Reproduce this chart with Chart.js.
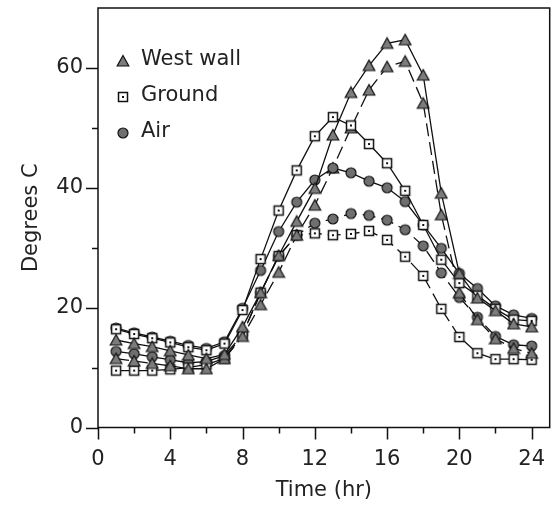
<!doctype html>
<html lang="en">
<head>
<meta charset="utf-8">
<title>Degrees C over the day</title>
<script src="https://cdn.jsdelivr.net/npm/chart.js@4"></script>
<style>
  html, body { margin: 0; padding: 0; background: #fff; }
</style>
</head>
<body>
<canvas id="chart" width="557" height="512"></canvas>
<script>
  // hourly readings
  const hours = [1, 2, 3, 4, 5, 6, 7, 8, 9, 10, 11, 12, 13, 14, 15, 16, 17, 18, 19, 20, 21, 22, 23, 24]

  const wallSolid   = [14.6, 14.0, 13.5, 12.8, 12.1, 11.5, 12.2, 16.8, 22.5, 28.7, 34.4, 39.9, 48.8, 55.9, 60.4, 64.1, 64.7, 58.8, 39.1, 25.7, 21.6, 19.5, 17.3, 16.8]
  const groundSolid = [16.4, 15.6, 14.9, 14.2, 13.4, 12.9, 14.0, 19.6, 28.1, 36.2, 42.9, 48.6, 51.8, 50.4, 47.3, 44.1, 39.5, 33.8, 28.0, 24.1, 22.0, 19.8, 18.0, 17.8]
  const airSolid    = [16.6, 15.8, 15.1, 14.4, 13.7, 13.2, 14.3, 19.9, 26.2, 32.7, 37.6, 41.3, 43.3, 42.5, 41.1, 40.0, 37.7, 33.8, 29.9, 25.7, 23.2, 20.3, 18.8, 18.2]

  const wallDashed   = [11.5, 11.1, 10.7, 10.3, 9.8, 9.8, 11.5, 15.2, 20.5, 25.9, 32.1, 37.1, 43.3, 50.0, 56.3, 60.2, 61.1, 54.1, 35.5, 22.5, 18.0, 14.8, 13.2, 12.4]
  const groundDashed = [9.5, 9.5, 9.5, 9.7, 10.0, 10.5, 11.5, 15.5, 22.5, 28.6, 32.1, 32.4, 32.1, 32.3, 32.8, 31.3, 28.5, 25.3, 19.8, 15.1, 12.4, 11.4, 11.4, 11.3]
  const airDashed    = [12.7, 12.3, 11.8, 11.3, 10.8, 11.0, 12.0, 15.5, 22.5, 28.6, 32.1, 34.1, 34.8, 35.7, 35.4, 34.6, 33.0, 30.3, 25.8, 21.7, 18.4, 15.2, 13.8, 13.6]

  const xLabelTicks = [0, 4, 8, 12, 16, 20, 24]
  const xMinorTicks = [2, 6, 10, 14, 18, 22]
  const yLabelTicks = [0, 20, 40, 60]
  const yMinorTicks = [10, 30, 50]

  const legendNames = ['West wall', 'Ground', 'Air']

  // marker glyphs drawn once, used as pointStyle images
  function marker(kind) {
    const c = document.createElement('canvas')
    c.width = 14
    c.height = 14
    const g = c.getContext('2d')
    g.strokeStyle = '#111'
    g.lineWidth = 1.2
    if (kind === 'triangle') {
      g.beginPath()
      g.moveTo(7, 1.5)
      g.lineTo(12.8, 12)
      g.lineTo(1.2, 12)
      g.closePath()
      g.fillStyle = '#7c7c7c'
      g.fill()
      g.stroke()
    } else if (kind === 'circle') {
      g.beginPath()
      g.arc(7, 7, 5, 0, Math.PI * 2)
      g.fillStyle = '#6f6f6f'
      g.fill()
      g.stroke()
    } else {
      g.fillStyle = '#fff'
      g.fillRect(2, 2, 10, 10)
      g.lineWidth = 1.5
      g.strokeRect(2.5, 2.5, 9, 9)
      g.fillStyle = '#111'
      g.fillRect(6, 6, 2, 2)
    }
    return c
  }

  const glyphs = { wall: marker('triangle'), ground: marker('square'), air: marker('circle') }

  function series(values, glyph, dashed) {
    return {
      data: hours.map((h, i) => ({ x: h, y: values[i] })),
      borderColor: '#111',
      borderWidth: 1.3,
      borderDash: dashed ? [13, 6] : [],
      pointStyle: glyph,
      pointRadius: 6,
      pointHoverRadius: 6,
      tension: 0,
    }
  }

  const axisMarks = {
    id: 'axisMarks',
    afterDraw(chart) {
      const { ctx, chartArea: a, scales: { x, y } } = chart
      ctx.save()
      ctx.strokeStyle = '#111'
      ctx.lineWidth = 1.5
      ctx.strokeRect(a.left, a.top, a.right - a.left, a.bottom - a.top)
      ctx.beginPath()
      for (const v of xLabelTicks) {
        const px = Math.round(x.getPixelForValue(v)) + 0.5
        ctx.moveTo(px, a.bottom); ctx.lineTo(px, a.bottom + 12)
      }
      for (const v of xMinorTicks) {
        const px = Math.round(x.getPixelForValue(v)) + 0.5
        ctx.moveTo(px, a.bottom); ctx.lineTo(px, a.bottom + 6)
      }
      for (const v of yLabelTicks) {
        const py = Math.round(y.getPixelForValue(v)) + 0.5
        ctx.moveTo(a.left, py); ctx.lineTo(a.left - 12, py)
      }
      for (const v of yMinorTicks) {
        const py = Math.round(y.getPixelForValue(v)) + 0.5
        ctx.moveTo(a.left, py); ctx.lineTo(a.left - 6, py)
      }
      ctx.stroke()

      // legend in the upper left of the plot
      const icons = [glyphs.wall, glyphs.ground, glyphs.air]
      ctx.fillStyle = '#222'
      ctx.font = '21px "DejaVu Sans"'
      ctx.textBaseline = 'middle'
      legendNames.forEach((name, i) => {
        const cy = 60 + i * 36
        ctx.drawImage(icons[i], 123 - 7, cy + 1 - 7)
        ctx.fillText(name, 141, cy)
      })
      ctx.restore()
    }
  }

  Chart.defaults.font.family = '"DejaVu Sans", sans-serif'
  Chart.defaults.font.size = 21
  Chart.defaults.color = '#222'

  new Chart(document.getElementById('chart'), {
    type: 'line',
    data: {
      datasets: [
        series(wallSolid, glyphs.wall, false),
        series(groundSolid, glyphs.ground, false),
        series(airSolid, glyphs.air, false),
        series(wallDashed, glyphs.wall, true),
        series(groundDashed, glyphs.ground, true),
        series(airDashed, glyphs.air, true),
      ]
    },
    options: {
      responsive: false,
      animation: false,
      devicePixelRatio: 1,
      layout: { padding: { top: 8, right: 6, left: 0, bottom: 0 } },
      plugins: { legend: { display: false }, tooltip: { enabled: false } },
      scales: {
        x: {
          type: 'linear',
          min: 0,
          max: 25,
          grid: { display: false },
          border: { display: false },
          afterBuildTicks: scale => { scale.ticks = xLabelTicks.map(v => ({ value: v })) },
          afterFit: scale => {
            scale.height = 84.5
            scale.paddingLeft = 0
            scale.paddingRight = 0
          },
          ticks: { padding: 11, maxRotation: 0, autoSkip: false },
          title: { display: true, text: 'Time (hr)', padding: { bottom: 9 } },
        },
        y: {
          type: 'linear',
          min: 0,
          max: 70,
          grid: { display: false },
          border: { display: false },
          afterBuildTicks: scale => { scale.ticks = yLabelTicks.map(v => ({ value: v })) },
          afterFit: scale => {
            scale.width = 98
            scale.paddingTop = 0
            scale.paddingBottom = 0
          },
          ticks: { padding: 7, autoSkip: false },
          title: { display: true, text: 'Degrees C', padding: { top: 19 } },
        }
      }
    },
    plugins: [axisMarks]
  })
</script>
</body>
</html>
